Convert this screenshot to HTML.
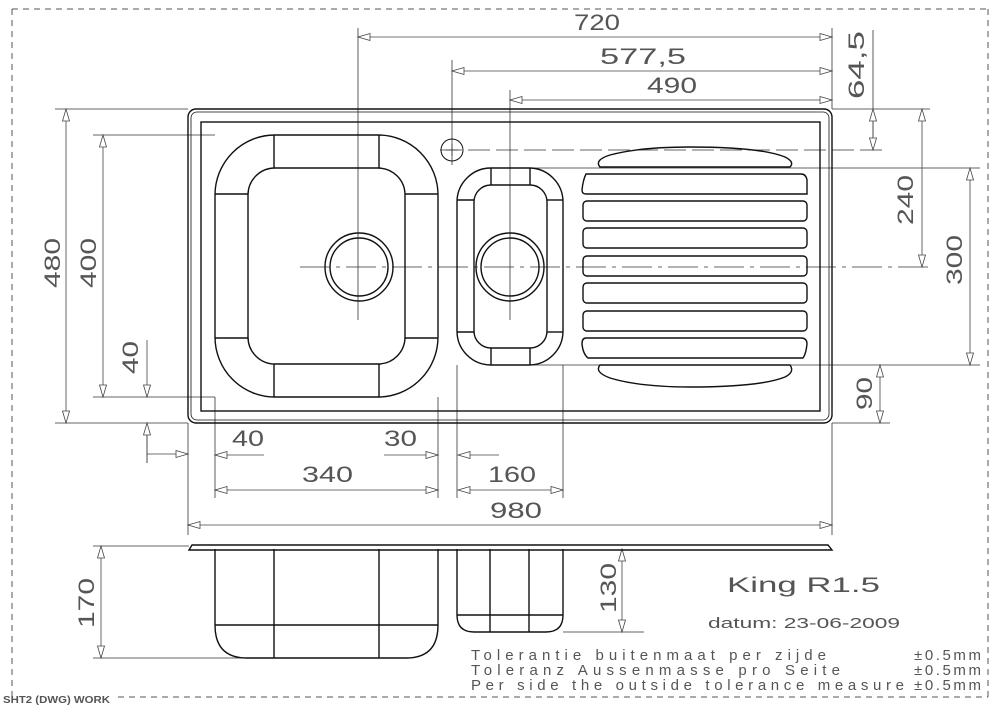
<!DOCTYPE html>
<html><head><meta charset="utf-8"><style>
html,body{margin:0;padding:0;background:#fff;width:1000px;height:707px;overflow:hidden}
svg{display:block}
text{font-family:"Liberation Sans",sans-serif;fill:#555}
</style></head><body>
<svg width="1000" height="707" viewBox="0 0 1000 707" xmlns="http://www.w3.org/2000/svg">
<defs>
<marker id="a" markerUnits="userSpaceOnUse" markerWidth="16" markerHeight="10" refX="13" refY="5" orient="auto-start-reverse" viewBox="0 0 16 10">
<path d="M1,1.5 L13,5 L1,8.5 Z" fill="#fff" stroke="#444" stroke-width="0.8"/>
</marker>
</defs>
<g stroke="#555" stroke-width="1" stroke-dasharray="6,5" fill="none">
<line x1="12" y1="9" x2="988" y2="9"/>
<line x1="12" y1="9" x2="12" y2="697"/>
<line x1="988" y1="9" x2="988" y2="697"/>
<line x1="118" y1="697" x2="988" y2="697"/>
</g>
<text x="3" y="703" font-size="10" font-weight="bold" fill="#222" textLength="107" lengthAdjust="spacingAndGlyphs">SHT2 (DWG) WORK</text>

<g stroke="#333" stroke-width="0.8" fill="none">
<line x1="358" y1="28" x2="358" y2="320"/>
<line x1="832" y1="28" x2="832" y2="109"/>
<line x1="452" y1="60" x2="452" y2="165"/>
<line x1="510" y1="90" x2="510" y2="320"/>
<line x1="873" y1="30" x2="873" y2="150"/>
<line x1="832" y1="109" x2="930" y2="109"/>
<line x1="440" y1="150" x2="883" y2="150" stroke-dasharray="22,6"/>
<line x1="530" y1="168" x2="980" y2="168"/>
<line x1="300" y1="267" x2="932" y2="267" stroke-dasharray="30,6,4,6"/>
<line x1="530" y1="365" x2="980" y2="365"/>
<line x1="832" y1="423" x2="890" y2="423"/>
<line x1="55" y1="109" x2="188" y2="109"/>
<line x1="55" y1="423" x2="188" y2="423"/>
<line x1="93" y1="135" x2="215" y2="135"/>
<line x1="93" y1="397" x2="215" y2="397"/>
<line x1="188" y1="423" x2="188" y2="535"/>
<line x1="832" y1="423" x2="832" y2="535"/>
<line x1="215" y1="397" x2="215" y2="498"/>
<line x1="438" y1="397" x2="438" y2="498"/>
<line x1="457" y1="365" x2="457" y2="498"/>
<line x1="563" y1="365" x2="563" y2="498"/>
<line x1="147" y1="423" x2="147" y2="463"/>
<line x1="93" y1="546" x2="189" y2="546"/>
<line x1="93" y1="658" x2="244" y2="658"/>
<line x1="563" y1="632" x2="644" y2="632"/>
</g>

<g stroke="#444" stroke-width="0.8" fill="none">
<line x1="358" y1="37" x2="832" y2="37" marker-start="url(#a)" marker-end="url(#a)"/>
<line x1="452" y1="71" x2="832" y2="71" marker-start="url(#a)" marker-end="url(#a)"/>
<line x1="510" y1="100" x2="832" y2="100" marker-start="url(#a)" marker-end="url(#a)"/>
<line x1="873" y1="129" x2="873" y2="109" marker-end="url(#a)"/>
<line x1="873" y1="129" x2="873" y2="150" marker-end="url(#a)"/>
<line x1="922" y1="109" x2="922" y2="267" marker-start="url(#a)" marker-end="url(#a)"/>
<line x1="970" y1="168" x2="970" y2="365" marker-start="url(#a)" marker-end="url(#a)"/>
<line x1="880" y1="365" x2="880" y2="423" marker-start="url(#a)" marker-end="url(#a)"/>
<line x1="66" y1="109" x2="66" y2="423" marker-start="url(#a)" marker-end="url(#a)"/>
<line x1="103" y1="135" x2="103" y2="397" marker-start="url(#a)" marker-end="url(#a)"/>
<line x1="147" y1="340" x2="147" y2="397" marker-end="url(#a)"/>
<line x1="147" y1="463" x2="147" y2="423" marker-end="url(#a)"/>
<line x1="147" y1="454" x2="188" y2="454" marker-end="url(#a)"/>
<line x1="264" y1="455" x2="215" y2="455" marker-end="url(#a)"/>
<line x1="384" y1="455" x2="438" y2="455" marker-end="url(#a)"/>
<line x1="499" y1="455" x2="458" y2="455" marker-end="url(#a)"/>
<line x1="215" y1="490" x2="438" y2="490" marker-start="url(#a)" marker-end="url(#a)"/>
<line x1="458" y1="490" x2="563" y2="490" marker-start="url(#a)" marker-end="url(#a)"/>
<line x1="188" y1="525" x2="832" y2="525" marker-start="url(#a)" marker-end="url(#a)"/>
<line x1="101" y1="546" x2="101" y2="658" marker-start="url(#a)" marker-end="url(#a)"/>
<line x1="622" y1="549" x2="622" y2="632" marker-start="url(#a)" marker-end="url(#a)"/>
</g>

<g font-size="22" fill="#5a5a5a">
<text x="574" y="30" textLength="46" lengthAdjust="spacingAndGlyphs">720</text>
<text x="600" y="64" textLength="86" lengthAdjust="spacingAndGlyphs">577,5</text>
<text x="647" y="93" textLength="50" lengthAdjust="spacingAndGlyphs">490</text>
<text x="232" y="446" textLength="32" lengthAdjust="spacingAndGlyphs">40</text>
<text x="384" y="446" textLength="33" lengthAdjust="spacingAndGlyphs">30</text>
<text x="302" y="482" textLength="51" lengthAdjust="spacingAndGlyphs">340</text>
<text x="488" y="482" textLength="48" lengthAdjust="spacingAndGlyphs">160</text>
<text x="490" y="518" textLength="52" lengthAdjust="spacingAndGlyphs">980</text>
<text transform="translate(864,99) rotate(-90)" textLength="68" lengthAdjust="spacingAndGlyphs">64,5</text>
<text transform="translate(913,225) rotate(-90)" textLength="50" lengthAdjust="spacingAndGlyphs">240</text>
<text transform="translate(962,285) rotate(-90)" textLength="50" lengthAdjust="spacingAndGlyphs">300</text>
<text transform="translate(872,410) rotate(-90)" textLength="33" lengthAdjust="spacingAndGlyphs">90</text>
<text transform="translate(60,288) rotate(-90)" textLength="50" lengthAdjust="spacingAndGlyphs">480</text>
<text transform="translate(96,288) rotate(-90)" textLength="50" lengthAdjust="spacingAndGlyphs">400</text>
<text transform="translate(138,374) rotate(-90)" textLength="33" lengthAdjust="spacingAndGlyphs">40</text>
<text transform="translate(94,628) rotate(-90)" textLength="50" lengthAdjust="spacingAndGlyphs">170</text>
<text transform="translate(616,613) rotate(-90)" textLength="50" lengthAdjust="spacingAndGlyphs">130</text>
</g>

<g stroke="#111" stroke-width="1.4" fill="none">
<rect x="188" y="109" width="644" height="314" rx="8"/>
<rect x="191" y="112" width="638" height="308" rx="6" stroke-width="0.8"/>
<rect x="201" y="122" width="619" height="289"/>
<rect x="215" y="135" width="223" height="262" rx="60"/>
<rect x="248" y="168" width="157" height="196" rx="27"/>
<line x1="274" y1="135" x2="274" y2="168"/><line x1="379" y1="135" x2="379" y2="168"/>
<line x1="274" y1="364" x2="274" y2="397"/><line x1="379" y1="364" x2="379" y2="397"/>
<line x1="215" y1="194" x2="248" y2="194"/><line x1="405" y1="194" x2="438" y2="194"/>
<line x1="215" y1="338" x2="248" y2="338"/><line x1="405" y1="338" x2="438" y2="338"/>
<circle cx="359" cy="267" r="34"/><circle cx="359" cy="267" r="29"/>
<rect x="457" y="168" width="106" height="197" rx="34"/>
<rect x="474" y="185" width="73" height="163" rx="17"/>
<line x1="491" y1="168" x2="491" y2="185"/><line x1="530" y1="168" x2="530" y2="185"/>
<line x1="491" y1="348" x2="491" y2="365"/><line x1="530" y1="348" x2="530" y2="365"/>
<line x1="457" y1="200" x2="474" y2="200"/><line x1="547" y1="200" x2="563" y2="200"/>
<line x1="457" y1="332" x2="474" y2="332"/><line x1="547" y1="332" x2="563" y2="332"/>
<circle cx="510" cy="267" r="34"/><circle cx="510" cy="267" r="29"/>
<circle cx="452" cy="150" r="11" stroke-width="1"/>
<path d="M600,167 Q594,160 610,155 Q640,147 690,147 Q760,147 785,157 Q795,162 790,167 Z"/>
<path d="M600,365 Q594,372 610,378 Q640,387 690,387 Q760,387 785,377 Q795,372 790,365 Z"/>
<path d="M586,174 L801,174 Q806,174 807,180 L807,194 L586,194 Q582,194 582,190 Q583,180 586,174 Z"/>
<rect x="583" y="201" width="224" height="20" rx="4"/>
<rect x="583" y="228" width="224" height="20" rx="4"/>
<rect x="583" y="256" width="224" height="20" rx="4"/>
<rect x="583" y="283" width="224" height="20" rx="4"/>
<rect x="583" y="311" width="224" height="20" rx="4"/>
<path d="M586,338 L801,338 Q807,338 807,344 Q806,354 803,358 L588,358 Q583,354 582,344 Q582,338 586,338 Z"/>
</g>
<g stroke="#333" stroke-width="0.8">
<line x1="446" y1="150" x2="458" y2="150"/><line x1="452" y1="144" x2="452" y2="156"/>
</g>

<g stroke="#111" stroke-width="1.4" fill="none">
<path d="M189,550 L192,545 L828,545 L832,550 Z"/>
<path d="M215,549 L215,625 Q215,658 247,658 L406,658 Q438,658 438,625 L438,549"/>
<line x1="215" y1="625" x2="438" y2="625"/>
<line x1="274" y1="549" x2="274" y2="658"/><line x1="379" y1="549" x2="379" y2="658"/>
<path d="M457,549 L457,615 Q457,632 474,632 L546,632 Q563,632 563,615 L563,549"/>
<line x1="457" y1="615" x2="563" y2="615"/>
<line x1="490" y1="549" x2="490" y2="632"/><line x1="529" y1="549" x2="529" y2="632"/>
</g>

<g fill="#222">
<text x="727" y="592" font-size="21" textLength="153" lengthAdjust="spacingAndGlyphs">King R1.5</text>
<text x="708" y="628" font-size="15" fill="#444" textLength="192" lengthAdjust="spacingAndGlyphs">datum: 23-06-2009</text>
<text x="471" y="660" font-size="15" fill="#444" textLength="355" lengthAdjust="spacing">Tolerantie buitenmaat per zijde</text>
<text x="471" y="675" font-size="15" fill="#444" textLength="369" lengthAdjust="spacing">Toleranz Aussenmasse pro Seite</text>
<text x="471" y="690" font-size="15" fill="#444" textLength="433" lengthAdjust="spacing">Per side the outside tolerance measure</text>
<text x="914" y="660" font-size="15" fill="#444" textLength="67" lengthAdjust="spacing">±0.5mm</text>
<text x="914" y="675" font-size="15" fill="#444" textLength="67" lengthAdjust="spacing">±0.5mm</text>
<text x="914" y="690" font-size="15" fill="#444" textLength="67" lengthAdjust="spacing">±0.5mm</text>
</g>
</svg>
</body></html>
